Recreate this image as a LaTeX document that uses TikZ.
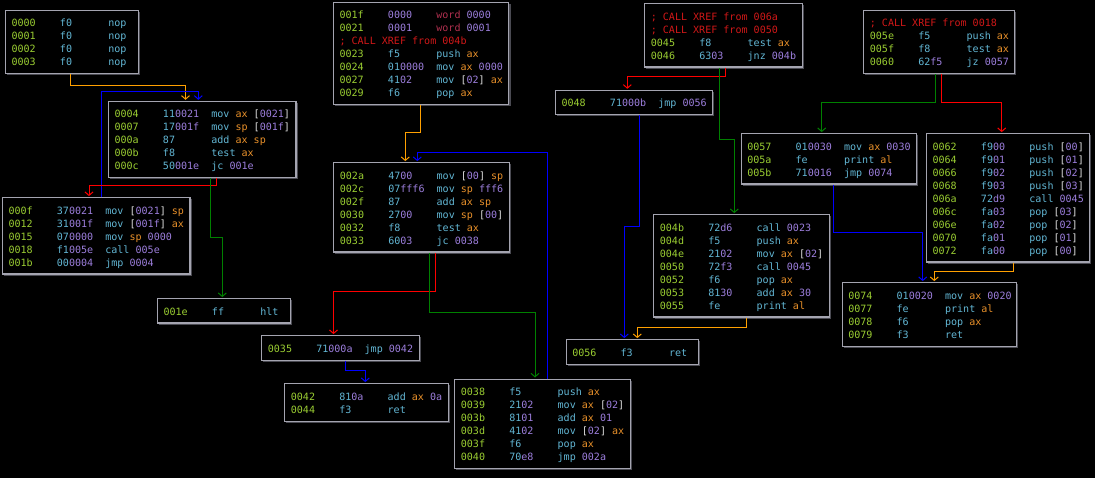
\documentclass[tikz,border=0pt]{standalone}
\usepackage{fontspec}
\usetikzlibrary{arrows.meta,shadows}
\newfontfamily\cf{DejaVu Sans Mono}
\definecolor{adc}{HTML}{9ACD32}
\definecolor{cyc}{HTML}{62B6D4}
\definecolor{puc}{HTML}{9C7EDC}
\definecolor{rgc}{HTML}{E8902A}
\definecolor{cmc}{HTML}{D01818}
\definecolor{wdc}{HTML}{B0304F}
\definecolor{bkc}{HTML}{E4E4E4}
\definecolor{bdc}{HTML}{A4A4B0}
\definecolor{shc}{HTML}{4A4A52}
\definecolor{eoc}{HTML}{FFA000}
\definecolor{egc}{HTML}{008000}
\definecolor{erc}{HTML}{FF0000}
\definecolor{ebc}{HTML}{0000FF}
% text pieces of a listing line
\newcommand\St{\vrule height 10.7pt depth 2.3pt width 0pt}
\newcommand\Ad[1]{\textcolor{adc}{#1}}
\newcommand\Mn[1]{\textcolor{cyc}{#1}}
\newcommand\Rg[1]{\textcolor{rgc}{#1}}
\newcommand\Nm[1]{\textcolor{puc}{#1}}
\newcommand\Wd[1]{\textcolor{wdc}{#1}}
\newcommand\Bk[1]{\textcolor{bkc}{[}\Nm{#1}\textcolor{bkc}{]}}
\newcommand\By[2]{\textcolor{cyc}{#1}\textcolor{puc}{#2}}
\newcommand\Cm[1]{\mbox{\St\textcolor{cmc}{; CALL XREF from #1}}}
\newcommand\Row[3]{\mbox{\St\makebox[48.4pt][l]{\Ad{#1}}\makebox[48.4pt][l]{#2}#3}}
\newcommand\Fixsp{\spaceskip=6.05pt\relax\xspaceskip=6.05pt\relax}
\tikzset{
  blk/.style={draw=bdc, line width=1.1pt, fill=black, anchor=north west,
    inner xsep=6pt, inner ysep=5.6pt, align=left, text width=#1,
    font=\cf\fontsize{10.05}{13}\selectfont,
    execute at begin node=\Fixsp,
    drop shadow={shadow xshift=1.6pt, shadow yshift=-1.6pt, fill=shc, opacity=1}},
  edge/.style={line width=1pt, -{Straight Barb[length=3.5pt,width=8pt,line width=1pt]}, shorten >=1.2pt},
  eo/.style={edge, draw=eoc},
  eg/.style={edge, draw=egc},
  er/.style={edge, draw=erc},
  eb/.style={edge, draw=ebc}
}
\begin{document}
\begin{tikzpicture}[x=1pt,y=-1pt]
\fill[black] (0,0) rectangle (1095,478);
\useasboundingbox (0,0) rectangle (1095,478);

% basic blocks
\node[blk=121pt] (A) at (5,10) {%
\Row{0000}{\Mn{f0}}{\Mn{nop}}\\
\Row{0001}{\Mn{f0}}{\Mn{nop}}\\
\Row{0002}{\Mn{f0}}{\Mn{nop}}\\
\Row{0003}{\Mn{f0}}{\Mn{nop}}};

\node[blk=175.45pt] (B) at (108,101) {%
\Row{0004}{\By{11}{0021}}{\Mn{mov} \Rg{ax} \Bk{0021}}\\
\Row{0007}{\By{17}{001f}}{\Mn{mov} \Rg{sp} \Bk{001f}}\\
\Row{000a}{\By{87}{}}{\Mn{add} \Rg{ax} \Rg{sp}}\\
\Row{000b}{\By{f8}{}}{\Mn{test} \Rg{ax}}\\
\Row{000c}{\By{50}{001e}}{\Mn{jc} \Nm{001e}}};

\node[blk=163.35pt] (C) at (333,2) {%
\Row{001f}{\Nm{0000}}{\Wd{word} \Nm{0000}}\\
\Row{0021}{\Nm{0001}}{\Wd{word} \Nm{0001}}\\
\Cm{004b}\\
\Row{0023}{\By{f5}{}}{\Mn{push} \Rg{ax}}\\
\Row{0024}{\By{01}{0000}}{\Mn{mov} \Rg{ax} \Nm{0000}}\\
\Row{0027}{\By{41}{02}}{\Mn{mov} \Bk{02} \Rg{ax}}\\
\Row{0029}{\By{f6}{}}{\Mn{pop} \Rg{ax}}};

\node[blk=145.2pt] (D) at (644.3,3.3) {%
\Cm{006a}\\
\Cm{0050}\\
\Row{0045}{\By{f8}{}}{\Mn{test} \Rg{ax}}\\
\Row{0046}{\By{63}{03}}{\Mn{jnz} \Nm{004b}}};

\node[blk=139pt] (E) at (863.3,10) {%
\Cm{0018}\\
\Row{005e}{\By{f5}{}}{\Mn{push} \Rg{ax}}\\
\Row{005f}{\By{f8}{}}{\Mn{test} \Rg{ax}}\\
\Row{0060}{\By{62}{f5}}{\Mn{jz} \Nm{0057}}};

\node[blk=145.2pt] (F) at (555,90) {%
\Row{0048}{\By{71}{000b}}{\Mn{jmp} \Nm{0056}}};

\node[blk=175.45pt] (G) at (2,197.3) {%
\Row{000f}{\By{37}{0021}}{\Mn{mov} \Bk{0021} \Rg{sp}}\\
\Row{0012}{\By{31}{001f}}{\Mn{mov} \Bk{001f} \Rg{ax}}\\
\Row{0015}{\By{07}{0000}}{\Mn{mov} \Rg{sp} \Nm{0000}}\\
\Row{0018}{\By{f1}{005e}}{\Mn{call} \Nm{005e}}\\
\Row{001b}{\By{00}{0004}}{\Mn{jmp} \Nm{0004}}};

\node[blk=121pt] (H) at (157,298.3) {%
\Row{001e}{\By{ff}{}}{\Mn{hlt}}};

\node[blk=163.35pt] (I) at (333.3,162.3) {%
\Row{002a}{\By{47}{00}}{\Mn{mov} \Bk{00} \Rg{sp}}\\
\Row{002c}{\By{07}{fff6}}{\Mn{mov} \Rg{sp} \Nm{fff6}}\\
\Row{002f}{\By{87}{}}{\Mn{add} \Rg{ax} \Rg{sp}}\\
\Row{0030}{\By{27}{00}}{\Mn{mov} \Rg{sp} \Bk{00}}\\
\Row{0032}{\By{f8}{}}{\Mn{test} \Rg{ax}}\\
\Row{0033}{\By{60}{03}}{\Mn{jc} \Nm{0038}}};

\node[blk=163.35pt] (J) at (740.7,133.3) {%
\Row{0057}{\By{01}{0030}}{\Mn{mov} \Rg{ax} \Nm{0030}}\\
\Row{005a}{\By{fe}{}}{\Mn{print} \Rg{al}}\\
\Row{005b}{\By{71}{0016}}{\Mn{jmp} \Nm{0074}}};

\node[blk=151.25pt] (K) at (926,133.3) {%
\Row{0062}{\By{f9}{00}}{\Mn{push} \Bk{00}}\\
\Row{0064}{\By{f9}{01}}{\Mn{push} \Bk{01}}\\
\Row{0066}{\By{f9}{02}}{\Mn{push} \Bk{02}}\\
\Row{0068}{\By{f9}{03}}{\Mn{push} \Bk{03}}\\
\Row{006a}{\By{72}{d9}}{\Mn{call} \Nm{0045}}\\
\Row{006c}{\By{fa}{03}}{\Mn{pop} \Bk{03}}\\
\Row{006e}{\By{fa}{02}}{\Mn{pop} \Bk{02}}\\
\Row{0070}{\By{fa}{01}}{\Mn{pop} \Bk{01}}\\
\Row{0072}{\By{fa}{00}}{\Mn{pop} \Bk{00}}};

\node[blk=163.35pt] (L) at (653.3,214.3) {%
\Row{004b}{\By{72}{d6}}{\Mn{call} \Nm{0023}}\\
\Row{004d}{\By{f5}{}}{\Mn{push} \Rg{ax}}\\
\Row{004e}{\By{21}{02}}{\Mn{mov} \Rg{ax} \Bk{02}}\\
\Row{0050}{\By{72}{f3}}{\Mn{call} \Nm{0045}}\\
\Row{0052}{\By{f6}{}}{\Mn{pop} \Rg{ax}}\\
\Row{0053}{\By{81}{30}}{\Mn{add} \Rg{ax} \Nm{30}}\\
\Row{0055}{\By{fe}{}}{\Mn{print} \Rg{al}}};

\node[blk=120pt] (M) at (565.7,339.3) {%
\Row{0056}{\By{f3}{}}{\Mn{ret}}};

\node[blk=162.5pt] (N) at (841.7,282.3) {%
\Row{0074}{\By{01}{0020}}{\Mn{mov} \Rg{ax} \Nm{0020}}\\
\Row{0077}{\By{fe}{}}{\Mn{print} \Rg{al}}\\
\Row{0078}{\By{f6}{}}{\Mn{pop} \Rg{ax}}\\
\Row{0079}{\By{f3}{}}{\Mn{ret}}};

\node[blk=145.2pt] (O) at (261.3,335.3) {%
\Row{0035}{\By{71}{000a}}{\Mn{jmp} \Nm{0042}}};

\node[blk=151.25pt] (P) at (284.3,383.3) {%
\Row{0042}{\By{81}{0a}}{\Mn{add} \Rg{ax} \Nm{0a}}\\
\Row{0044}{\By{f3}{}}{\Mn{ret}}};

\node[blk=163.35pt] (Q) at (454.3,378.7) {%
\Row{0038}{\By{f5}{}}{\Mn{push} \Rg{ax}}\\
\Row{0039}{\By{21}{02}}{\Mn{mov} \Rg{ax} \Bk{02}}\\
\Row{003b}{\By{81}{01}}{\Mn{add} \Rg{ax} \Nm{01}}\\
\Row{003d}{\By{41}{02}}{\Mn{mov} \Bk{02} \Rg{ax}}\\
\Row{003f}{\By{f6}{}}{\Mn{pop} \Rg{ax}}\\
\Row{0040}{\By{70}{e8}}{\Mn{jmp} \Nm{002a}}};

% control-flow edges
\draw[eo] (A.south -| 70,0) |- (185.5,86) -- (B.north -| 185.5,0);
\draw[eb] (G.north -| 101,0) |- (198.3,91.3) -- (B.north -| 198.3,0);
\draw[er] (B.south -| 216.5,0) |- (89,186) -- (G.north -| 89,0);
\draw[eg] (B.south -| 210,0) |- (222.3,237.3) -- (H.north -| 222.3,0);
\draw[eo] (C.south -| 420.7,0) |- (405.3,132.3) -- (I.north -| 405.3,0);
\draw[eb] (Q.north -| 547.3,0) |- (417.3,152.3) -- (I.north -| 417.3,0);
\draw[er] (I.south -| 435.5,0) |- (333.5,292) -- (O.north -| 333.5,0);
\draw[eg] (I.south -| 429.5,0) |- (535,313) -- (Q.north -| 535,0);
\draw[eb] (O.south -| 345.3,0) |- (365.3,370) -- (P.north -| 365.3,0);
\draw[er] (D.south -| 725.7,0) |- (627.3,77) -- (F.north -| 627.3,0);
\draw[eg] (D.south -| 719.7,0) |- (734.3,139.7) -- (L.north -| 734.3,0);
\draw[eb] (F.south -| 639.3,0) |- (624.3,226.7) -- (M.north -| 624.3,0);
\draw[eo] (L.south -| 746.7,0) |- (637.3,327.7) -- (M.north -| 637.3,0);
\draw[eg] (E.south -| 935.7,0) |- (821.7,102.3) -- (J.north -| 821.7,0);
\draw[er] (E.south -| 941.3,0) |- (1001.7,102.3) -- (K.north -| 1001.7,0);
\draw[eb] (J.south -| 833.3,0) |- (922.7,232.3) -- (N.north -| 922.7,0);
\draw[eo] (K.south -| 1013.7,0) |- (934.3,271.7) -- (N.north -| 934.3,0);
\end{tikzpicture}
\end{document}
